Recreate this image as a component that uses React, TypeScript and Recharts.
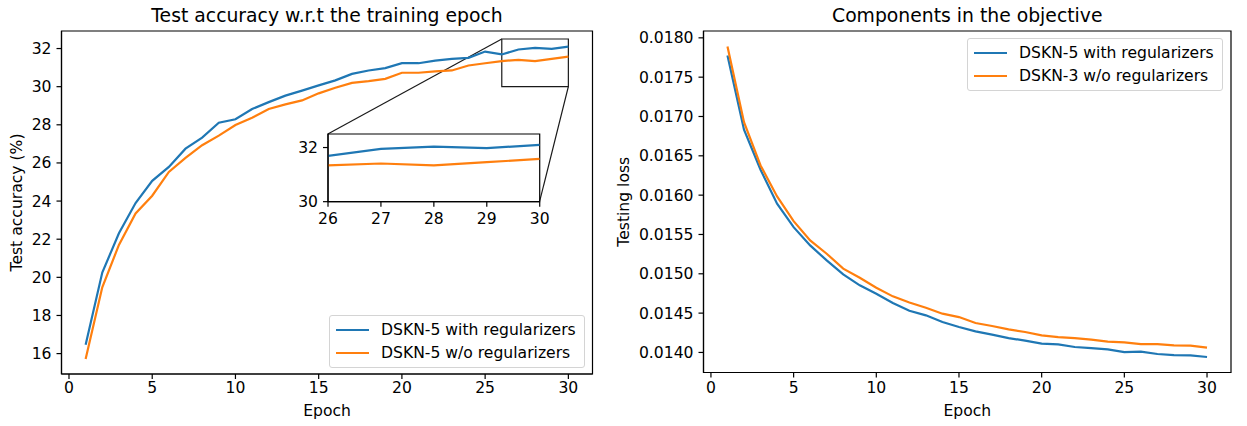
import { LineChart, Line, XAxis, YAxis, ReferenceArea, ReferenceLine, Legend } from 'recharts';

const epochs = [1, 2, 3, 4, 5, 6, 7, 8, 9, 10, 11, 12, 13, 14, 15, 16, 17, 18, 19, 20, 21, 22, 23, 24, 25, 26, 27, 28, 29, 30];

const accWithReg = [
  16.47, 20.25, 22.31, 23.9, 25.06, 25.79, 26.75, 27.33, 28.11, 28.29,
  28.83, 29.19, 29.53, 29.79, 30.07, 30.33, 30.67, 30.85, 30.97, 31.23,
  31.23, 31.37, 31.46, 31.51, 31.84, 31.69, 31.95, 32.03, 31.98, 32.1,
];
const accWithoutReg = [
  15.72, 19.48, 21.7, 23.35, 24.28, 25.53, 26.26, 26.93, 27.43, 27.99,
  28.37, 28.83, 29.07, 29.28, 29.65, 29.94, 30.2, 30.29, 30.41, 30.73,
  30.73, 30.8, 30.85, 31.11, 31.23, 31.34, 31.41, 31.34, 31.46, 31.58,
];

const lossWithReg = [
  0.017775, 0.016831, 0.016323, 0.015891, 0.015593, 0.015361, 0.01517, 0.014992, 0.014853, 0.014747,
  0.014628, 0.01453, 0.014472, 0.014386, 0.014323, 0.014268, 0.014226, 0.014183, 0.01415, 0.014112,
  0.014103, 0.014069, 0.014056, 0.01404, 0.014005, 0.01401, 0.01398, 0.013967, 0.013963, 0.013942,
];
const lossWithoutReg = [
  0.01789, 0.016928, 0.016377, 0.015984, 0.01567, 0.015424, 0.015255, 0.015065, 0.01495, 0.014823,
  0.014713, 0.014635, 0.014569, 0.014493, 0.01445, 0.014374, 0.014336, 0.014294, 0.01426, 0.014217,
  0.014196, 0.014183, 0.014163, 0.014137, 0.014128, 0.014107, 0.014107, 0.01409, 0.014086, 0.014061,
];

const epochTicks = [0, 5, 10, 15, 20, 25, 30];
const accTicks = [16, 18, 20, 22, 24, 26, 28, 30, 32];
const lossTicks = [0.014, 0.0145, 0.015, 0.0155, 0.016, 0.0165, 0.017, 0.0175, 0.018];
const insetEpochTicks = [26, 27, 28, 29, 30];
const insetAccTicks = [30, 32];

const BLUE = '#1f77b4';
const ORANGE = '#ff7f0e';
const FONT = 15.6;
const TITLE_FONT = 18.8;
const AXIS = { stroke: '#000', strokeWidth: 1.2 };
const TICK = { fill: '#000', fontSize: FONT };

const accRows = epochs.map((e, i) => ({ epoch: e, withReg: accWithReg[i], withoutReg: accWithoutReg[i] }));
const lossRows = epochs.map((e, i) => ({ epoch: e, withReg: lossWithReg[i], withoutReg: lossWithoutReg[i] }));
const insetRows = accRows.filter((r) => r.epoch >= 26);

// left panel layout
const L = { width: 600, height: 426, top: 31, right: 7.5, yAxisW: 61.5, xAxisH: 52 };
const xDom: [number, number] = [-0.45, 31.45];
const accDom: [number, number] = [14.93, 32.92];
const lossDom: [number, number] = [0.013745, 0.018087];

// zoom box and inset placement, in the left panel's data coords
const zoomBox = { x1: 26, x2: 30, y1: 30, y2: 32.5 };
const insetBox = { x1: 15.55, x2: 28.27, y1: 23.97, y2: 27.52 };

const plotW = L.width - L.yAxisW - L.right;
const plotH = L.height - L.top - L.xAxisH;
const pxX = (x: number) => L.yAxisW + ((x - xDom[0]) / (xDom[1] - xDom[0])) * plotW;
const pxY = (y: number) => L.top + ((accDom[1] - y) / (accDom[1] - accDom[0])) * plotH;

const INSET_YW = 40;
const INSET_XH = 36;
const INSET_PAD_R = 14;

function legendContent(props: any) {
  const items = props.payload || [];
  return (
    <div
      style={{
        border: '1px solid #d4d4d4',
        borderRadius: 3,
        background: 'rgba(255,255,255,0.85)',
        padding: '3px 8px 3px 6px',
        fontSize: FONT,
        color: '#000',
      }}
    >
      {items.map((it: any) => (
        <div key={it.value} style={{ display: 'flex', alignItems: 'center', height: 22.4 }}>
          <svg width={33} height={6} style={{ marginRight: 12 }}>
            <line x1={0} y1={3} x2={33} y2={3} stroke={it.color} strokeWidth={2.2} />
          </svg>
          <span style={{ whiteSpace: 'nowrap' }}>{it.value}</span>
        </div>
      ))}
    </div>
  );
}

// full-domain rectangle: draws the top/right spines, carries the title
function frame(xd: [number, number], yd: [number, number], title?: string) {
  return (
    <ReferenceArea
      x1={xd[0]}
      x2={xd[1]}
      y1={yd[0]}
      y2={yd[1]}
      fill="none"
      stroke="#000"
      strokeWidth={1.2}
      label={title ? { value: title, position: 'top', offset: 9, style: { fill: '#000', fontSize: TITLE_FONT } } : undefined}
    />
  );
}

function AccuracyPanel() {
  return (
    <LineChart
      width={L.width}
      height={L.height}
      data={accRows}
      margin={{ top: L.top, right: L.right, left: 0, bottom: 0 }}
    >
      <XAxis
        dataKey="epoch"
        type="number"
        domain={xDom}
        ticks={epochTicks}
        allowDataOverflow
        height={L.xAxisH}
        axisLine={AXIS}
        tickLine={AXIS}
        tickSize={5}
        tickMargin={3}
        tick={TICK}
        label={{ value: 'Epoch', position: 'insideBottom', offset: 10, style: { fill: '#000', fontSize: FONT } }}
      />
      <YAxis
        type="number"
        domain={accDom}
        ticks={accTicks}
        allowDataOverflow
        width={L.yAxisW}
        axisLine={AXIS}
        tickLine={AXIS}
        tickSize={5}
        tickMargin={5}
        tick={TICK}
        label={{ value: 'Test accuracy (%)', angle: -90, position: 'insideLeft', offset: 16, style: { textAnchor: 'middle', fill: '#000', fontSize: FONT } }}
      />
      {frame(xDom, accDom, 'Test accuracy w.r.t the training epoch')}
      <ReferenceArea
        x1={zoomBox.x1}
        x2={zoomBox.x2}
        y1={zoomBox.y1}
        y2={zoomBox.y2}
        fill="none"
        stroke="#1a1a1a"
        strokeWidth={1.2}
      />
      <ReferenceLine
        segment={[{ x: zoomBox.x1, y: zoomBox.y2 }, { x: insetBox.x1, y: insetBox.y2 }]}
        stroke="#1a1a1a"
        strokeWidth={1.2}
      />
      <ReferenceLine
        segment={[{ x: zoomBox.x2, y: zoomBox.y1 }, { x: insetBox.x2, y: insetBox.y1 }]}
        stroke="#1a1a1a"
        strokeWidth={1.2}
      />
      <Line dataKey="withReg" name="DSKN-5 with regularizers" stroke={BLUE} strokeWidth={2.2} dot={false} isAnimationActive={false} />
      <Line dataKey="withoutReg" name="DSKN-5 w/o regularizers" stroke={ORANGE} strokeWidth={2.2} dot={false} isAnimationActive={false} />
      <Legend
        layout="vertical"
        align="center"
        verticalAlign="middle"
        itemSorter="dataKey"
        wrapperStyle={{ left: 329, top: 315, width: 'auto', height: 'auto' }}
        content={legendContent}
      />
    </LineChart>
  );
}

function InsetPanel() {
  const left = pxX(insetBox.x1);
  const right = pxX(insetBox.x2);
  const top = pxY(insetBox.y2);
  const bottom = pxY(insetBox.y1);
  const xd: [number, number] = [zoomBox.x1, zoomBox.x2];
  const yd: [number, number] = [zoomBox.y1, zoomBox.y2];
  return (
    <div style={{ position: 'absolute', left: left - INSET_YW, top: top - 1 }}>
      <LineChart
        width={INSET_YW + (right - left) + INSET_PAD_R}
        height={1 + (bottom - top) + INSET_XH}
        data={insetRows}
        margin={{ top: 1, right: INSET_PAD_R, left: 0, bottom: 0 }}
      >
        <XAxis
          dataKey="epoch"
          type="number"
          domain={xd}
          ticks={insetEpochTicks}
          allowDataOverflow
          height={INSET_XH}
          axisLine={AXIS}
          tickLine={AXIS}
          tickSize={5}
          tickMargin={6}
          tick={TICK}
        />
        <YAxis
          type="number"
          domain={yd}
          ticks={insetAccTicks}
          allowDataOverflow
          width={INSET_YW}
          axisLine={AXIS}
          tickLine={AXIS}
          tickSize={5}
          tickMargin={5}
          tick={TICK}
        />
        {frame(xd, yd)}
        <Line dataKey="withReg" stroke={BLUE} strokeWidth={2.2} dot={false} isAnimationActive={false} />
        <Line dataKey="withoutReg" stroke={ORANGE} strokeWidth={2.2} dot={false} isAnimationActive={false} />
      </LineChart>
    </div>
  );
}

function LossPanel() {
  return (
    <LineChart
      width={647}
      height={426}
      data={lossRows}
      margin={{ top: 31, right: 16, left: 0, bottom: 0 }}
    >
      <XAxis
        dataKey="epoch"
        type="number"
        domain={xDom}
        ticks={epochTicks}
        allowDataOverflow
        height={53.5}
        axisLine={AXIS}
        tickLine={AXIS}
        tickSize={5}
        tickMargin={4}
        tick={TICK}
        label={{ value: 'Epoch', position: 'insideBottom', offset: 10, style: { fill: '#000', fontSize: FONT } }}
      />
      <YAxis
        type="number"
        domain={lossDom}
        ticks={lossTicks}
        allowDataOverflow
        width={103.5}
        axisLine={AXIS}
        tickLine={AXIS}
        tickSize={5}
        tickMargin={5}
        tick={TICK}
        tickFormatter={(v: number) => v.toFixed(4)}
        label={{ value: 'Testing loss', angle: -90, position: 'insideLeft', offset: 23, style: { textAnchor: 'middle', fill: '#000', fontSize: FONT } }}
      />
      {frame(xDom, lossDom, 'Components in the objective')}
      <Line dataKey="withReg" name="DSKN-5 with regularizers" stroke={BLUE} strokeWidth={2.2} dot={false} isAnimationActive={false} />
      <Line dataKey="withoutReg" name="DSKN-3 w/o regularizers" stroke={ORANGE} strokeWidth={2.2} dot={false} isAnimationActive={false} />
      <Legend
        layout="vertical"
        align="center"
        verticalAlign="middle"
        itemSorter="dataKey"
        wrapperStyle={{ left: 367, top: 38, width: 'auto', height: 'auto' }}
        content={legendContent}
      />
    </LineChart>
  );
}

export default function App() {
  return (
    <div
      style={{
        position: 'absolute',
        left: 0,
        top: 0,
        width: 1247,
        height: 426,
        background: '#fff',
        fontFamily: '"DejaVu Sans", sans-serif',
      }}
    >
      <div style={{ position: 'absolute', left: 0, top: 0 }}>
        <AccuracyPanel />
      </div>
      <InsetPanel />
      <div style={{ position: 'absolute', left: 600, top: 0 }}>
        <LossPanel />
      </div>
    </div>
  );
}
